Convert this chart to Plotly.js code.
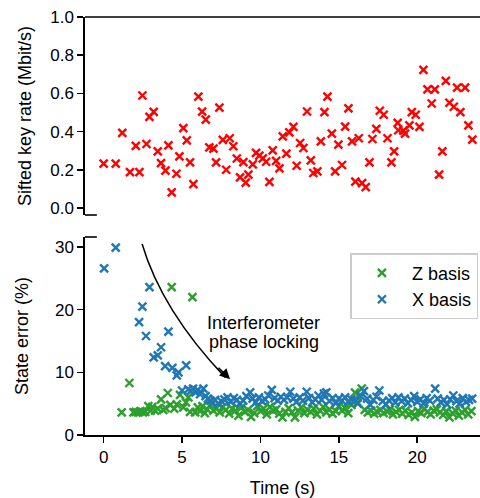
<!DOCTYPE html>
<html>
<head>
<meta charset="utf-8">
<script src="https://cdn.plot.ly/plotly-3.0.1.min.js"></script>
<style>html,body{margin:0;padding:0;background:#fff;}#chart{width:480px;height:498px;}</style>
</head>
<body>
<div id="chart"></div>
<script>
// ---- Sifted key rate (top panel) ----
const keyTime = [0.0,0.77,1.19,1.68,2.05,2.28,2.47,2.73,2.92,3.19,3.45,3.66,3.94,4.13,4.34,4.64,4.83,5.08,5.30,5.51,5.72,6.04,6.28,6.51,6.74,7.0,7.17,7.38,7.60,7.81,8.04,8.27,8.49,8.70,8.91,9.06,9.23,9.51,9.72,9.93,10.15,10.36,10.57,10.78,11.0,11.21,11.42,11.65,11.84,12.10,12.31,12.53,12.74,12.97,13.21,13.37,13.63,13.85,14.08,14.27,14.55,14.76,14.97,15.20,15.40,15.61,15.84,16.05,16.27,16.48,16.71,16.95,17.14,17.39,17.61,17.86,18.10,18.35,18.52,18.75,18.79,19.11,19.22,19.50,19.65,19.90,20.14,20.39,20.65,20.92,21.12,21.39,21.60,21.82,22.05,22.33,22.54,22.75,23.05,23.26,23.51];
const keyRate = [0.232,0.232,0.393,0.188,0.325,0.188,0.589,0.335,0.477,0.503,0.296,0.235,0.195,0.328,0.082,0.179,0.270,0.418,0.354,0.239,0.125,0.583,0.504,0.463,0.317,0.311,0.239,0.525,0.356,0.200,0.365,0.323,0.259,0.160,0.240,0.133,0.174,0.228,0.288,0.274,0.260,0.242,0.137,0.302,0.247,0.207,0.375,0.284,0.396,0.425,0.221,0.340,0.314,0.505,0.249,0.183,0.191,0.349,0.502,0.583,0.389,0.191,0.332,0.225,0.426,0.521,0.349,0.138,0.365,0.130,0.109,0.239,0.361,0.414,0.509,0.488,0.365,0.239,0.296,0.446,0.407,0.405,0.389,0.432,0.502,0.488,0.425,0.723,0.621,0.547,0.621,0.175,0.296,0.665,0.551,0.530,0.630,0.502,0.630,0.432,0.358];

// ---- State error, Z basis ----
const zTime = [1.15,1.64,1.90,2.05,2.20,2.35,2.50,2.65,2.85,3.00,3.10,3.28,3.45,3.66,3.80,3.95,4.09,4.25,4.34,4.50,4.66,4.87,5.08,5.25,5.40,5.51,5.66,5.83,6.00,6.15,6.30,6.45,6.60,6.80,7.00,7.20,7.40,7.60,7.80,8.00,8.20,8.40,8.60,8.80,9.00,9.20,9.40,9.60,9.80,10.00,10.20,10.40,10.60,10.80,11.00,11.20,11.40,11.60,11.80,12.00,12.20,12.40,12.60,12.80,13.00,13.20,13.40,13.60,13.80,14.00,14.20,14.40,14.60,14.80,15.00,15.20,15.40,15.60,15.80,16.03,16.20,16.46,16.65,16.85,17.05,17.25,17.45,17.65,17.85,18.05,18.25,18.45,18.65,18.85,19.05,19.25,19.45,19.65,19.85,20.05,20.25,20.45,20.65,20.85,21.05,21.25,21.45,21.65,21.85,22.05,22.25,22.45,22.65,22.85,23.05,23.25,23.45];
const zError = [3.6,8.3,3.6,3.7,3.6,3.8,3.6,3.7,4.6,3.9,4.5,3.9,4.2,5.7,4.0,4.3,6.7,4.8,23.6,4.2,4.9,6.4,4.4,5.2,6.0,3.7,22.0,3.6,4.4,3.8,4.6,3.5,4.1,4.8,3.9,4.3,3.6,4.5,4.0,3.4,4.2,3.9,3.1,4.4,3.7,4.0,2.9,3.5,4.6,3.8,4.2,3.3,4.5,3.9,4.1,3.4,2.8,3.7,4.3,3.6,2.8,3.9,4.4,3.5,4.0,3.7,4.2,3.3,3.9,4.5,3.6,4.1,3.4,3.8,4.6,3.9,4.3,3.5,4.8,6.75,5.2,7.4,4.0,3.6,3.9,3.4,3.7,4.0,3.5,3.8,4.1,3.3,3.7,4.0,3.4,3.9,3.2,3.6,2.9,3.8,3.5,4.2,3.7,3.3,3.9,4.1,3.6,3.2,3.8,2.8,3.5,3.9,3.1,3.6,4.0,3.3,3.8];

// ---- State error, X basis ----
const xTime = [0.03,0.77,2.26,2.47,2.70,2.92,3.19,3.45,3.66,3.92,4.13,4.38,4.66,4.77,5.00,5.26,5.40,5.55,5.70,5.85,6.00,6.15,6.36,6.50,6.65,6.80,6.95,7.10,7.30,7.50,7.70,7.90,8.10,8.30,8.50,8.70,8.90,9.10,9.34,9.50,9.70,9.90,10.10,10.30,10.50,10.72,10.90,11.10,11.30,11.50,11.70,11.90,12.10,12.30,12.50,12.70,12.95,13.10,13.30,13.50,13.70,13.90,14.05,14.20,14.40,14.60,14.80,15.00,15.20,15.40,15.60,15.80,16.00,16.20,16.40,16.60,16.80,17.00,17.20,17.40,17.58,17.80,18.00,18.20,18.40,18.60,18.80,19.00,19.20,19.40,19.60,19.80,20.00,20.20,20.40,20.60,20.80,21.14,21.30,21.50,21.70,21.90,22.10,22.30,22.50,22.70,22.90,23.10,23.30,23.50];
const xError = [26.6,29.9,18.0,20.5,15.8,23.6,12.4,12.7,14.0,11.0,16.5,10.7,9.5,10.0,7.1,11.1,7.3,7.0,7.4,6.8,7.2,6.5,7.4,6.2,5.8,5.5,5.2,5.6,5.0,5.4,5.7,6.0,5.3,5.9,5.6,5.0,5.5,6.2,6.8,5.8,5.2,6.0,5.4,5.7,6.3,7.2,5.9,5.5,6.1,5.6,6.0,6.9,5.8,5.3,6.0,5.5,6.9,5.9,5.2,5.7,6.3,5.6,6.6,6.8,5.4,5.9,5.1,5.8,5.5,6.0,5.3,5.7,5.6,5.0,6.2,7.0,5.8,4.8,5.6,6.1,7.1,5.4,4.9,5.5,5.9,5.2,6.0,5.4,5.8,5.1,5.6,6.2,5.3,5.7,5.0,5.9,5.5,7.4,5.8,5.2,5.6,4.9,5.7,6.3,5.4,5.0,5.9,5.3,5.6,5.8];

const xTicks = [0,5,10,15,20];
const keyTicks = [0,0.2,0.4,0.6,0.8,1.0];
const keyTickText = ['0.0','0.2','0.4','0.6','0.8','1.0'];
const errTicks = [0,10,20,30];

const FONT = '"Liberation Sans", Arial, Helvetica, sans-serif';
const mk = (c) => ({symbol:'x-thin', size:8, color:c, line:{width:2.4, color:c}});

const traces = [
  {x:keyTime, y:keyRate, xaxis:'x2', yaxis:'y2', type:'scatter', mode:'markers', marker:mk('#ff0000'), showlegend:false, name:'Sifted key rate'},
  {x:zTime, y:zError, xaxis:'x', yaxis:'y', type:'scatter', mode:'markers', marker:mk('#2ca02c'), name:'Z basis'},
  {x:xTime, y:xError, xaxis:'x', yaxis:'y', type:'scatter', mode:'markers', marker:mk('#1f77b4'), name:'X basis'}
];

const axBase = {showgrid:false, zeroline:false, color:'#000', linecolor:'#000', linewidth:1.6, tickwidth:1.6, ticklen:6, ticks:'outside', showline:true, tickfont:{family:FONT, size:17, color:'#000'}};

const layout = {
  width:480, height:498,
  margin:{l:85, r:0, t:17, b:63},
  paper_bgcolor:'#fff', plot_bgcolor:'#fff',
  font:{family:FONT, size:17, color:'#000'},
  xaxis: Object.assign({}, axBase, {range:[-1.19,24.0], anchor:'y', tickvals:xTicks,
    title:{text:'Time (s)', font:{family:FONT,size:18}, standoff:15}}),
  xaxis2: {range:[-1.19,24.0], anchor:'y2', matches:'x', showline:false, showticklabels:false, ticks:'', showgrid:false, zeroline:false},
  yaxis: Object.assign({}, axBase, {domain:[0,0.4737], range:[0,31.6], tickvals:errTicks,
    title:{text:'State error (%)', font:{family:FONT,size:18}, standoff:22}}),
  yaxis2: Object.assign({}, axBase, {domain:[0.5263,1], range:[-0.037,1.0], tickvals:keyTicks, ticktext:keyTickText, anchor:'x2',
    title:{text:'Sifted key rate (Mbit/s)', font:{family:FONT,size:18}, standoff:14}}),
  showlegend:true,
  legend:{x:0.672, y:0.435, xanchor:'left', yanchor:'top', bgcolor:'rgba(255,255,255,0.8)', bordercolor:'#cccccc', borderwidth:1.5,
    font:{family:FONT, size:18, color:'#000'}, itemwidth:50, tracegroupgap:0},
  shapes:[
    {type:'line', xref:'paper', yref:'paper', x0:0, x1:1, y0:1, y1:1, line:{color:'#000', width:1.6}},
    {type:'line', xref:'paper', yref:'paper', x0:0, x1:0.030, y0:0.5263, y1:0.5263, line:{color:'#000', width:1.6}},
    {type:'line', xref:'paper', yref:'paper', x0:0, x1:0.030, y0:0.4737, y1:0.4737, line:{color:'#000', width:1.6}},
    {type:'path', xref:'x', yref:'y', path:'M 2.45,30.5 Q 3.72,19.8 7.75,9.2', line:{color:'#000', width:1.6}}
  ],
  annotations:[
    {x:8.06, y:8.9, xref:'x', yref:'y', text:'', showarrow:true, ax:-13, ay:-13, arrowhead:2, arrowsize:1.3, arrowwidth:1.6, arrowcolor:'#000', standoff:0},
    {x:10.2, y:17.8, xref:'x', yref:'y', text:'Interferometer', showarrow:false, font:{family:FONT, size:18, color:'#000'}, xanchor:'center', yanchor:'middle'},
    {x:10.2, y:14.8, xref:'x', yref:'y', text:'phase locking', showarrow:false, font:{family:FONT, size:18, color:'#000'}, xanchor:'center', yanchor:'middle'}
  ]
};

Plotly.newPlot('chart', traces, layout, {displayModeBar:false, staticPlot:true});
</script>
</body>
</html>
